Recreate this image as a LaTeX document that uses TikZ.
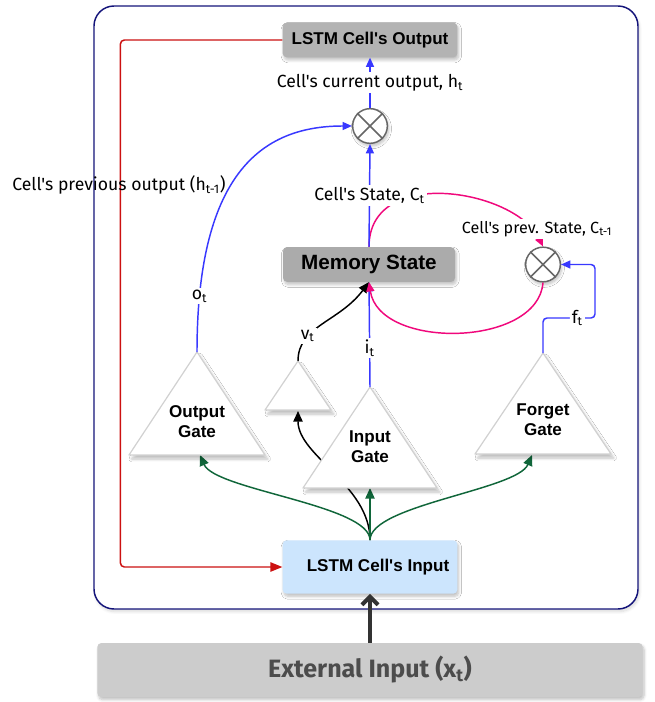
\documentclass[tikz,border=0pt]{standalone}
\usepackage{fontspec}
\setmainfont{Liberation Sans}
\newfontfamily\labelfont{Fira Sans}
\usetikzlibrary{positioning, arrows.meta, calc, shadows.blur}
\definecolor{CellNavy}{HTML}{14147A}
\definecolor{PrevRed}{HTML}{CC1111}
\definecolor{GateBlue}{HTML}{3838FF}
\definecolor{StatePink}{HTML}{F0087C}
\definecolor{InGreen}{HTML}{10663A}
\definecolor{OutGray}{HTML}{B3B3B3}
\definecolor{MemGray}{HTML}{ABABAB}
\definecolor{ExtGray}{HTML}{CCCCCC}
\definecolor{InBlue}{HTML}{CCE5FD}
\newcommand{\ap}{\textquotesingle}

\begin{document}
\begin{tikzpicture}[
    x=0.75pt, y=-0.75pt,
    cellbox/.style={rounded corners=3pt, inner sep=0pt, font=\bfseries\fontsize{12.8}{15}\selectfont,
                    blur shadow={shadow blur steps=6, shadow xshift=1pt, shadow yshift=-2pt, shadow opacity=25}},
    mult/.style={circle, draw=black!60, line width=1.1pt, fill=white, minimum size=26pt, inner sep=0pt,
                 blur shadow={shadow blur steps=6, shadow xshift=1pt, shadow yshift=-2pt, shadow opacity=25}},
    gatetri/.style={draw=black!18, line width=0.9pt, fill=white, line join=round,
                    blur shadow={shadow blur steps=6, shadow xshift=2pt, shadow yshift=-3pt, shadow opacity=25}},
    gatetext/.style={font=\bfseries\fontsize{12.8}{15}\selectfont, align=center},
    lbl/.style={font=\labelfont\fontsize{13.2}{15}\selectfont, text=black, inner sep=1.5pt},
    bluearrow/.style={-{Triangle[length=7pt, width=6pt]}, GateBlue, line width=1.1pt},
    redarrow/.style={-{Triangle[length=9pt, width=7pt]}, PrevRed, line width=1.1pt, rounded corners=3pt},
    greenarrow/.style={-{Triangle[length=8pt, width=7pt]}, InGreen, line width=1.1pt},
    blackarrow/.style={-{Triangle[length=8pt, width=7pt]}, black, line width=1.1pt},
    pinkarrow/.style={-{Triangle[length=7pt, width=6pt]}, StatePink, line width=1.1pt}
]
  \useasboundingbox (0,0) rectangle (655,702);

  % Cell frame
  \draw[CellNavy, line width=1.1pt, fill=white, rounded corners=15pt,
        blur shadow={shadow blur steps=8, shadow xshift=1pt, shadow yshift=-2pt, shadow opacity=15}]
    (94,6) rectangle (638,609);

  % Boxes
  \node[cellbox, fill=OutGray, minimum width=131pt, minimum height=26pt] (outbox) at (370,40) {LSTM Cell\ap s Output};
  \node[cellbox, fill=MemGray, minimum width=129pt, minimum height=26pt,
        font=\bfseries\fontsize{15.5}{18}\selectfont] (memory) at (369,264.5) {Memory State};
  \node[cellbox, fill=InBlue, minimum width=131pt, minimum height=40pt] (inbox) at (370,567)
    {\raisebox{-4.5pt}{\hspace*{12pt}LSTM Cell\ap s Input}};
  \node[cellbox, fill=ExtGray, minimum width=409pt, minimum height=40.5pt, text=black!70,
        font=\labelfont\bfseries\fontsize{18.8}{21}\selectfont] (extbox) at (370,670)
    {External Input (x\textsubscript{t})};

  % Multipliers
  \node[mult] (mult1) at (370,126) {};
  \draw[black!60, line width=1.1pt] (mult1.45) -- (mult1.225) (mult1.135) -- (mult1.315);
  \node[mult] (mult2) at (543,264.5) {};
  \draw[black!60, line width=1.1pt] (mult2.45) -- (mult2.225) (mult2.135) -- (mult2.315);

  % Gate corners
  \coordinate (og) at (197,352); \coordinate (og-in) at (200,455);
  \coordinate (sg) at (298,361); \coordinate (sg-in) at (298,411);
  \coordinate (ig) at (370,387); \coordinate (ig-in) at (370,488);
  \coordinate (fg) at (543,353); \coordinate (fg-in) at (532,455);

  % Previous output loop
  \draw[redarrow] (outbox.west) -- ++(-162,0) |- (inbox.west);
  \node[lbl] (hprev) at (119,185) {Cell's previous output (h\textsubscript{t-1})};

  % From the input
  \draw[blackarrow] (inbox.north) .. controls +(0,-55) and +(0,45) .. (sg-in);
  \draw[greenarrow] (inbox.north) -- (ig-in);
  \draw[greenarrow] (inbox.north) .. controls +(0,-35) and +(15,35) .. (og-in);
  \draw[greenarrow] (inbox.north) .. controls +(0,-35) and +(-15,35) .. (fg-in);
  \draw[-{Straight Barb[length=6pt, width=12pt]}, black!80, line width=3pt] (extbox.north) -- (inbox.south);

  % Gates
  \draw[gatetri] (og) -- ++(68,103) -- ++(-136,0) -- cycle;
  \draw[gatetri] (sg) -- ++(33,49) -- ++(-66,0) -- cycle;
  \draw[gatetri] (ig) -- ++(67,101) -- ++(-134,0) -- cycle;
  \draw[gatetri] (fg) -- ++(68,101) -- ++(-136,0) -- cycle;
  \node[gatetext] (og-text) at (197,422) {Output\\Gate};
  \node[gatetext] (ig-text) at (370,447) {Input\\Gate};
  \node[gatetext] (fg-text) at (543,420) {Forget\\Gate};

  % Gate outputs
  \draw[bluearrow] (og) .. controls +(0,-185) and +(-85,0) .. (mult1.west)
    node[lbl, fill=white, pos=0.11] (ot) {o\textsubscript{t}};
  \draw[bluearrow] (ig) -- (memory.south) node[lbl, fill=white, pos=0.37] (it) {i\textsubscript{t}};
  \draw[blackarrow] (sg) .. controls +(0,-35) and +(-30,40) .. (memory.south)
    node[lbl, fill=white, pos=0.3] (vt) {v\textsubscript{t}};
  \draw[bluearrow, rounded corners=3pt] (fg) |- ++(52,-35) node[lbl, fill=white, pos=0.83] (ft) {f\textsubscript{t}}
    |- (mult2.east);

  % Cell state
  \draw[pinkarrow] (memory.north) .. controls +(0,-82) and +(-28,-57) .. (mult2.north);
  \draw[pinkarrow] (mult2.south) .. controls +(-5,65) and +(10,68) .. (memory.south);
  \node[lbl, fill=white, font=\labelfont\fontsize{12.1}{14}\selectfont] (cprev) at (537,229)
    {Cell's prev. State, C\textsubscript{t-1}};
  \draw[bluearrow] (memory.north) -- (mult1.south)
    node[lbl, fill=white, midway] (ct) {Cell's State, C\textsubscript{t}};
  \draw[bluearrow] (mult1.north) -- (outbox.south)
    node[lbl, fill=white, midway] (ht) {Cell's current output, h\textsubscript{t}};
\end{tikzpicture}
\end{document}
